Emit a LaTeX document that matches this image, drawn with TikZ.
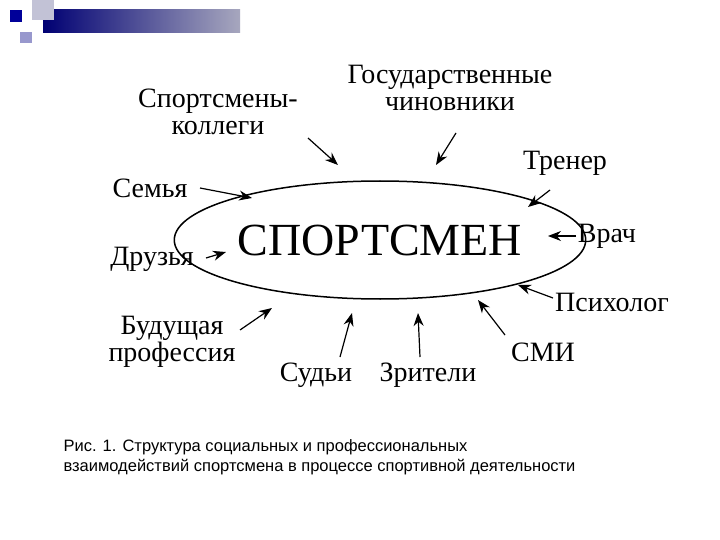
\documentclass[tikz,border=0pt]{standalone}
\usepackage{fontspec}
\setmainfont{Liberation Serif}
\newfontfamily\capfont{Liberation Sans}
\usetikzlibrary{arrows.meta,shapes.geometric}
\begin{document}
\begin{tikzpicture}[x=1pt,y=-1pt,
  lab/.style={font=\fontsize{28}{27}\selectfont,align=center,inner sep=1pt},
  arr/.style={-{Stealth[length=13pt,width=10pt]},line width=1.2pt}]
\useasboundingbox (0,0) rectangle (720,540);
\fill[white] (0,0) rectangle (720,540);
% decoration
\shade[left color=blue!45!black,right color=blue!15!gray!60] (43,10) rectangle (240,33);
\fill[blue!20!gray!40] (32,0) rectangle (54,20);
\fill[blue!35!gray!60] (20,32) rectangle (32,43);
\fill[blue!60!black] (10,10) rectangle (22,22);
% center
\node[draw,ellipse,line width=1.5pt,minimum width=322,minimum height=118,font=\fontsize{46}{46}\selectfont] (c) at (380,240) {СПОРТСМЕН};
\node[lab] (a1) at (218,112) {Спортсмены-\\коллеги};
\node[lab] (a2) at (450,88) {Государственные\\чиновники};
\node[lab] (a3) at (565,163) {Тренер};
\node[lab] (a4) at (150,188) {Семья};
\node[lab] (a5) at (607,236) {Врач};
\node[lab] (a6) at (152,259) {Друзья};
\node[lab] (a7) at (612,302) {Психолог};
\node[lab] (a8) at (172,342) {Будущая\\профессия};
\node[lab] (a9) at (316,375) {Судьи};
\node[lab] (a10) at (428,375) {Зрители};
\node[lab] (a11) at (543,352) {СМИ};
\coordinate (e1) at (338,165); \coordinate (s1) at (308,138);
\coordinate (e2) at (436,165); \coordinate (s2) at (456,133);
\coordinate (e3) at (528,207); \coordinate (s3) at (550,190);
\coordinate (e4) at (252,198); \coordinate (s4) at (200,188);
\coordinate (e5) at (548,236); \coordinate (s5) at (576,236);
\coordinate (e6) at (226,252); \coordinate (s6) at (206,258);
\coordinate (e7) at (518,285); \coordinate (s7) at (553,298);
\coordinate (e8) at (272,308); \coordinate (s8) at (240,330);
\coordinate (e9) at (352,313); \coordinate (s9) at (340,357);
\coordinate (e10) at (418,313); \coordinate (s10) at (420,357);
\coordinate (e11) at (478,300); \coordinate (s11) at (505,335);
\foreach \i in {1,...,11} \draw[arr] (s\i) -- (e\i);
\node[font=\capfont\fontsize{16.5}{20}\selectfont,align=left,anchor=north west] (cap) at (60,436) {Рис. 1. Структура социальных и профессиональных\\взаимодействий спортсмена в процессе спортивной деятельности};
\end{tikzpicture}
\end{document}
